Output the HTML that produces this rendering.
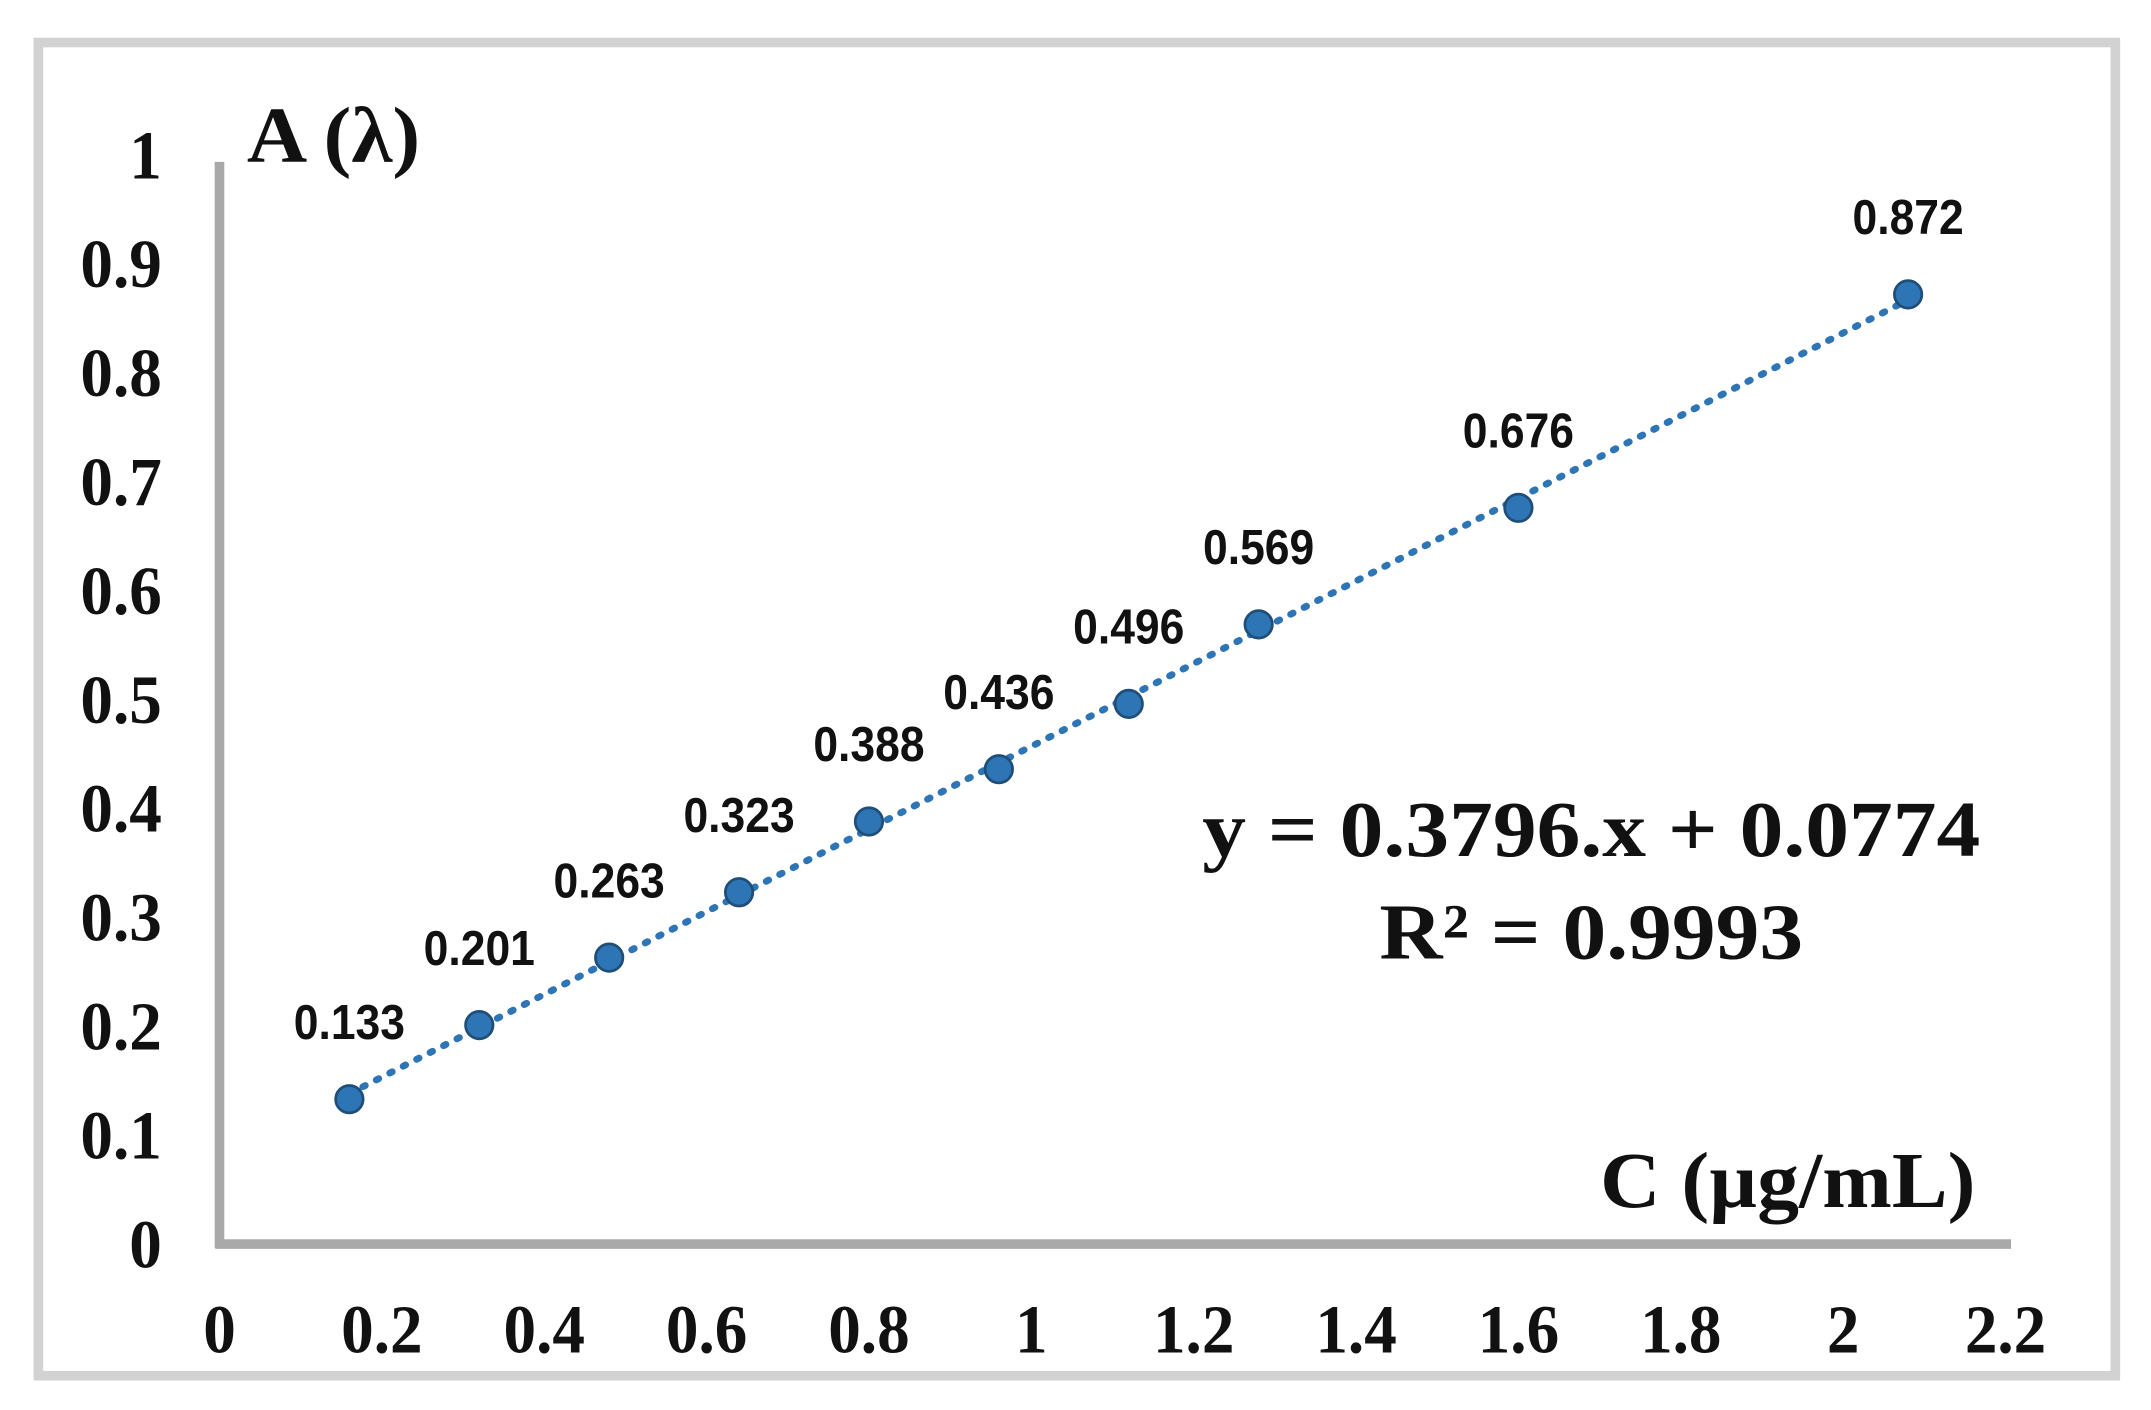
<!DOCTYPE html>
<html><head><meta charset="utf-8"><style>
html,body{margin:0;padding:0;background:#fff;}
svg{display:block;}
.tick{font-family:"Liberation Serif",serif;font-weight:bold;font-size:50px;fill:#111;}
.lbl{font-family:"Liberation Sans",sans-serif;font-weight:bold;font-size:36px;fill:#111;}
.big{font-family:"Liberation Serif",serif;font-weight:bold;font-size:58px;fill:#111;}
</style></head><body>
<svg id="chart" width="2151" height="1410" viewBox="0 0 1568 1028" preserveAspectRatio="none" xmlns="http://www.w3.org/2000/svg">
<rect x="28" y="31" width="1514" height="972" fill="#fff" stroke="#d2d2d2" stroke-width="7"/>
<line x1="160" y1="118" x2="160" y2="910" stroke="#a9a9a9" stroke-width="7"/>
<line x1="157" y1="907" x2="1466" y2="907" stroke="#a9a9a9" stroke-width="7"/>
<g id="yticks"></g><g id="xticks"></g>
<path id="trend" fill="none" stroke="#2e75b6" stroke-width="5" stroke-dasharray="2 9" stroke-linecap="round"/>
<g id="points"></g><g id="labels"></g>
<text class="big" x="180" y="118" transform="translate(180 0) scale(1.05 1) translate(-180 0)">A (λ)</text>
<text class="big" x="1440" y="880" text-anchor="end" transform="translate(1440 0) scale(1.05 1) translate(-1440 0)">C (µg/mL)</text>
<text class="big" x="1160" y="624" text-anchor="middle" transform="translate(1160 0) scale(1.1 1) translate(-1160 0)">y = 0.3796.x + 0.0774</text>
<text class="big" x="1160" y="699" text-anchor="middle" transform="translate(1160 0) scale(1.1 1) translate(-1160 0)">R² = 0.9993</text>
</svg>
<script>
const xValues = [0.16, 0.32, 0.48, 0.64, 0.8, 0.96, 1.12, 1.28, 1.6, 2.08];
const yValues = [0.133, 0.201, 0.263, 0.323, 0.388, 0.436, 0.496, 0.569, 0.676, 0.872];
const pointLabels = ["0.133","0.201","0.263","0.323","0.388","0.436","0.496","0.569","0.676","0.872"];
const yTicks = [0,0.1,0.2,0.3,0.4,0.5,0.6,0.7,0.8,0.9,1];
const yTickLabels = ["0","0.1","0.2","0.3","0.4","0.5","0.6","0.7","0.8","0.9","1"];
const xTicks = [0,0.2,0.4,0.6,0.8,1,1.2,1.4,1.6,1.8,2,2.2];
const xTickLabels = ["0","0.2","0.4","0.6","0.8","1","1.2","1.4","1.6","1.8","2","2.2"];
const slope = 0.3796, intercept = 0.0774;

const NS = "http://www.w3.org/2000/svg";
const sx = v => 160 + v * 591.8;
const sy = v => 907 - v * 794;
function mk(tag, attrs, parent){ const e=document.createElementNS(NS,tag); for(const k in attrs) e.setAttribute(k,attrs[k]); parent.appendChild(e); return e; }

const yg = document.getElementById('yticks');
yTicks.forEach((t,i)=>{
  const e = mk('text',{class:'tick',x:118,y:sy(t)+17,'text-anchor':'end',transform:`translate(118 0) scale(0.95 1) translate(-118 0)`},yg);
  e.textContent = yTickLabels[i];
  
  
});
const xg = document.getElementById('xticks');
xTicks.forEach((t,i)=>{
  const x = sx(t);
  const e = mk('text',{class:'tick',x:x,y:986,'text-anchor':'middle',transform:`translate(${x} 0) scale(0.95 1) translate(${-x} 0)`},xg);
  e.textContent = xTickLabels[i];
  
  
});
const x0 = xValues[0], x1 = xValues[xValues.length-1];
document.getElementById('trend').setAttribute('d',`M${sx(x0)},${sy(slope*x0+intercept)} L${sx(x1)},${sy(slope*x1+intercept)}`);
const pg = document.getElementById('points'), lg = document.getElementById('labels');
xValues.forEach((xv,i)=>{
  const cx = sx(xv), cy = sy(yValues[i]);
  const c = mk('circle',{cx:cx,cy:cy,r:10,fill:'#2e75b6',stroke:'#1f4e79','stroke-width':2},pg);
  
  
  const t = mk('text',{class:'lbl',x:cx,y:cy-44,'text-anchor':'middle',transform:`translate(${cx} 0) scale(0.9 1) translate(${-cx} 0)`},lg);
  t.textContent = pointLabels[i];
  
  
});
</script>
</body></html>
